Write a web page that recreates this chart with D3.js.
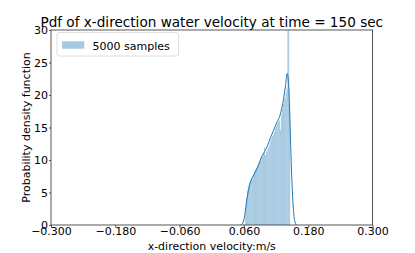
<!DOCTYPE html>
<html>
<head>
<meta charset="utf-8">
<script src="https://cdn.jsdelivr.net/npm/d3@7"></script>
<style>
  body { margin: 0; background: #fff; }
  text { font-family: "DejaVu Sans", sans-serif; fill: #000; }
</style>
</head>
<body>
<svg id="chart" width="415" height="253"></svg>
<script>
// histogram (density) over 50 bins
var binStart = 0.0623,
  binEnd = 0.1463;
var binDensity = [
  2.6, 4.1, 5.3, 6.0, 6.5, 6.8, 7.1, 7.0, 7.5, 7.8,
  8.2, 8.5, 8.7, 9.1, 9.3, 9.6, 9.9, 10.1, 10.4, 10.6,
  10.9, 11.9, 10.8, 11.2, 11.5, 11.8, 12.1, 12.6, 13.0, 13.4,
  13.7, 13.9, 14.3, 14.8, 15.2, 15.6, 15.8, 16.2, 16.0, 14.6,
  17.0, 17.8, 18.6, 19.4, 19.6, 20.4, 21.0, 35.0, 38.0, 18.5
];

// kde curve
var kdeX = [0.054, 0.058, 0.0615, 0.065, 0.069, 0.0727, 0.0764, 0.082, 0.0876, 0.093,
  0.0988, 0.1044, 0.110, 0.1155, 0.121, 0.1267, 0.1323, 0.1379, 0.1407, 0.1435,
  0.1463, 0.149, 0.1519, 0.1547, 0.158];
var kdeY = [0, 0.3, 1.5, 3.6, 5.5, 6.7, 7.4, 8.3, 9.3, 10.5,
  11.3, 12.3, 13.5, 14.6, 15.7, 16.7, 18.6, 21.6, 23.3, 21.5,
  15, 8, 3, 0.7, 0];

var xTicks = [-0.3, -0.18, -0.06, 0.06, 0.18, 0.3];
var yTicks = [0, 5, 10, 15, 20, 25, 30];

var titleText = "Pdf of x-direction water velocity at time = 150 sec",
  xLabel = "x-direction velocity:m/s",
  yLabel = "Probability density function",
  legendLabel = "5000 samples";

var margin = { left: 51, right: 42.5, top: 30, bottom: 28 };
var width = 415, height = 253;

var svg = d3.select("#chart");

var x = d3.scaleLinear().domain([-0.3, 0.3]).range([margin.left, width - margin.right]);
var y = d3.scaleLinear().domain([0, 30]).range([height - margin.bottom, margin.top]);

svg.append("clipPath").attr("id", "plotclip")
  .append("rect")
  .attr("x", x(-0.3)).attr("y", y(30))
  .attr("width", x(0.3) - x(-0.3)).attr("height", y(0) - y(30));

var plot = svg.append("g").attr("clip-path", "url(#plotclip)");

var binW = (binEnd - binStart) / binDensity.length;

plot.selectAll("rect.bar")
  .data(binDensity)
  .enter()
  .append("rect")
  .attr("class", "bar")
  .attr("x", function (d, i) { return x(binStart + i * binW); })
  .attr("width", function (d, i) { return x(binStart + (i + 1) * binW) - x(binStart + i * binW); })
  .attr("y", function (d) { return y(d); })
  .attr("height", function (d) { return y(0) - y(d); })
  .attr("fill", "#1f77b4")
  .attr("fill-opacity", 0.4);

var line = d3.line()
  .x(function (d, i) { return x(kdeX[i]); })
  .y(function (d) { return y(d); })
  .curve(d3.curveMonotoneX);

plot.append("path")
  .datum(kdeY)
  .attr("d", line)
  .attr("fill", "none")
  .attr("stroke", "#1f77b4")
  .attr("stroke-width", 1);

// axes
var xAxis = d3.axisBottom(x).tickValues(xTicks).tickFormat(d3.format(".3f")).tickSize(3).tickPadding(0);
var yAxis = d3.axisLeft(y).tickValues(yTicks).tickFormat(d3.format("d")).tickSize(2).tickPadding(1);

var gx = svg.append("g").attr("transform", "translate(0," + y(0) + ")").call(xAxis);
var gy = svg.append("g").attr("transform", "translate(" + x(-0.3) + ",0)").call(yAxis);

[gx, gy].forEach(function (g) {
  g.select(".domain").remove();
  g.selectAll(".tick line").attr("stroke", "#333").attr("stroke-width", 0.8);
  g.selectAll(".tick text").style("font-size", "11px").attr("fill", "#000");
});
gx.selectAll(".tick text").attr("dy", "0.6em");

// frame
svg.append("rect")
  .attr("x", x(-0.3)).attr("y", y(30))
  .attr("width", x(0.3) - x(-0.3)).attr("height", y(0) - y(30))
  .attr("fill", "none")
  .attr("stroke", "#444")
  .attr("stroke-width", 0.9);

// legend
var lg = svg.append("g");
lg.append("rect")
  .attr("x", 57).attr("y", 32.5).attr("width", 121.5).attr("height", 23.5)
  .attr("rx", 2)
  .attr("fill", "#fff").attr("fill-opacity", 0.8)
  .attr("stroke", "#d6d6d6").attr("stroke-width", 0.8);
lg.append("rect")
  .attr("x", 62).attr("y", 41.3).attr("width", 22.3).attr("height", 7.4)
  .attr("fill", "#1f77b4").attr("fill-opacity", 0.4);
lg.append("text")
  .attr("x", 92.5).attr("y", 49.5)
  .style("font-size", "11px")
  .text(legendLabel);

// titles
svg.append("text")
  .attr("x", (x(-0.3) + x(0.3)) / 2).attr("y", 26.5)
  .attr("text-anchor", "middle")
  .style("font-size", "13.6px")
  .text(titleText);

svg.append("text")
  .attr("x", (x(-0.3) + x(0.3)) / 2).attr("y", 249.5)
  .attr("text-anchor", "middle")
  .style("font-size", "11px")
  .text(xLabel);

svg.append("text")
  .attr("transform", "translate(29.8," + (y(0) + y(30)) / 2 + ") rotate(-90)")
  .attr("text-anchor", "middle")
  .style("font-size", "11px")
  .text(yLabel);
</script>
</body>
</html>
